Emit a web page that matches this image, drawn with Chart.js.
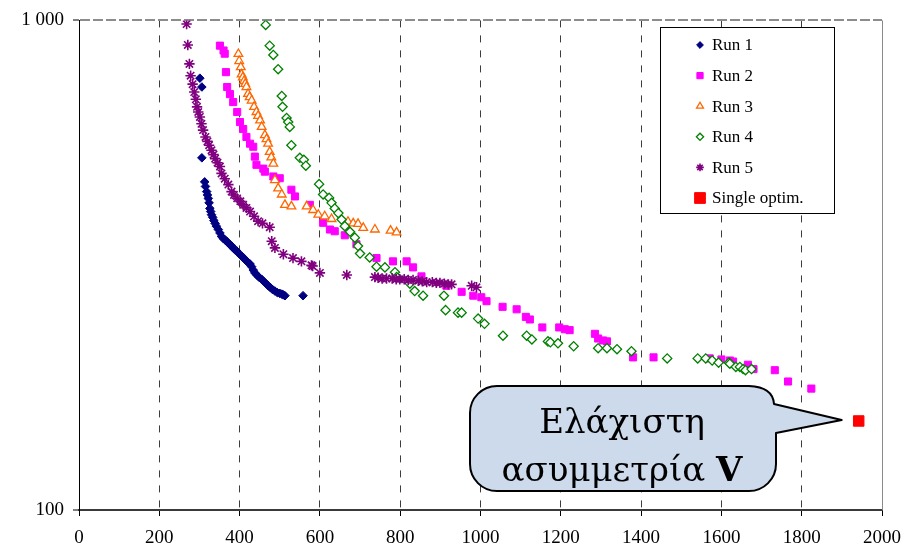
<!DOCTYPE html>
<html>
<head>
<meta charset="utf-8">
<script src="https://cdn.jsdelivr.net/npm/chart.js"></script>
<style>
  html, body { margin: 0; padding: 0; background: #fff; }
  #wrap { width: 919px; height: 550px; }
</style>
</head>
<body>
<div id="wrap"><canvas id="c" width="919" height="550"></canvas></div>
<script>
// Pareto fronts of five optimisation runs plus the single-objective optimum
const run1 = [[301,762],[306,731],[306,524],[313,468],[315,458],[318,447],[320,440],[322,433],[324,424],[326,413],[328,407],[330,401],[333,396],[336,390],[339,385],[342,380],[347,374],[351,368],[355,362],[360,358],[364,356],[368,354],[373,350],[377,348],[380,346],[385,342],[389,340],[393,338],[400,333],[405,330],[409,328],[413,325],[418,322],[422,320],[426,318],[430,314],[434,309],[438,305],[443,302],[448,299],[455,296],[460,293],[466,290],[471,287],[476,285],[482,282],[488,280],[494,278],[500,277],[505,276],[509,275],[513,274],[558,274]];

const run2 = [[351,888],[360,868],[363,855],[366,784],[369,731],[376,707],[384,681],[394,650],[401,620],[409,600],[417,578],[426,560],[434,552],[438,527],[442,507],[459,498],[463,491],[484,480],[500,476],[529,451],[538,437],[575,420],[608,386],[625,374],[637,371],[662,364],[691,349],[741,327],[782,322],[816,322],[832,313],[853,300],[915,287],[953,279],[982,274],[1002,272],[1015,267],[1055,260],[1090,257],[1113,248],[1123,245],[1154,236],[1196,236],[1210,234],[1222,233],[1285,229],[1293,224],[1305,222],[1315,221],[1380,205],[1431,205],[1571,204],[1600,203],[1621,202],[1629,201],[1666,198],[1680,194],[1733,193],[1766,183],[1824,177]];

const run3 = [[397,854],[399,826],[403,803],[405,776],[408,765],[411,752],[414,742],[417,731],[421,708],[425,697],[430,686],[436,666],[442,650],[446,638],[451,625],[455,606],[463,583],[467,572],[471,560],[475,539],[479,525],[484,510],[488,472],[496,454],[505,441],[513,420],[529,417],[567,417],[583,410],[596,401],[612,398],[629,393],[670,388],[683,385],[695,384],[708,377],[737,374],[776,372],[791,369]];

const run4 = [[465,979],[475,888],[484,850],[496,795],[505,701],[507,666],[517,632],[521,620],[525,606],[529,556],[550,524],[560,519],[565,505],[598,463],[608,441],[623,434],[629,424],[637,413],[646,404],[654,392],[662,380],[675,370],[687,360],[695,346],[700,334],[724,328],[741,314],[762,313],[787,306],[791,299],[824,290],[836,280],[857,274],[909,274],[913,256],[944,253],[953,253],[994,246],[1010,240],[1056,227],[1115,227],[1128,223],[1168,221],[1174,220],[1193,219],[1232,216],[1293,214],[1315,214],[1340,213],[1376,211],[1465,204],[1541,204],[1561,204],[1577,202],[1593,200],[1619,200],[1621,199],[1636,196],[1646,196],[1654,194],[1660,193],[1675,194]];

const run5 = [[268,983],[271,891],[275,815],[278,771],[283,741],[287,714],[291,690],[294,666],[297,650],[301,635],[305,615],[309,597],[315,578],[320,566],[324,556],[330,543],[335,532],[339,522],[345,512],[351,503],[355,487],[363,475],[372,462],[380,447],[386,440],[394,433],[402,427],[409,420],[417,414],[426,407],[436,398],[446,389],[457,385],[475,378],[480,354],[488,343],[509,333],[533,327],[554,322],[579,316],[582,315],[600,305],[667,302],[737,299],[745,298],[755,297],[766,297],[780,297],[790,296],[799,296],[810,296],[820,295],[832,295],[845,294],[855,293],[866,292],[880,292],[890,291],[899,291],[910,290],[920,289],[928,289],[978,287],[990,285]];

const singleOptim = [[1942,152]];

const seriesNames = ['Run 1', 'Run 2', 'Run 3', 'Run 4', 'Run 5', 'Single optim.'];
const xTicks = [0, 200, 400, 600, 800, 1000, 1200, 1400, 1600, 1800, 2000];
const yTicks = [100, 1000];
const yTickLabels = ['100', '1 000'];
const calloutLines = ['Ελάχιστη', 'ασυμμετρία'];
const calloutBold = 'V';

const toXY = arr => arr.map(p => ({x: p[0], y: p[1]}));

// marker styles per series
const styles = [
  {ps: 'rectRot',  bg: '#000080', bc: '#000080', r: 4.3, bw: 1,   lr: 3.4},
  {ps: 'rect',     bg: '#ff00ff', bc: '#ff00ff', r: 5.0, bw: 1,   lr: 4.4},
  {ps: 'triangle', bg: '#ffffff', bc: '#ff6600', r: 5.0, bw: 1.3, lr: 4.0},
  {ps: 'rectRot',  bg: '#ffffff', bc: '#008000', r: 4.6, bw: 1.3, lr: 3.6},
  {ps: 'star',     bg: '#800080', bc: '#800080', r: 5.2, bw: 1.6, lr: 3.8},
  {ps: 'rect',     bg: '#ff0000', bc: '#ff0000', r: 7.4, bw: 1,   lr: 7.6}
];

const seriesData = [run1, run2, run3, run4, run5, singleOptim];

const datasets = seriesData.map((d, i) => ({
  label: seriesNames[i],
  data: toXY(d),
  pointStyle: styles[i].ps,
  backgroundColor: styles[i].bg,
  borderColor: styles[i].bc,
  pointRadius: styles[i].r,
  pointHoverRadius: styles[i].r,
  borderWidth: styles[i].bw,
  showLine: false,
  order: 5 - i
}));

function drawMarker(ctx, st, x, y, r) {
  ctx.save();
  ctx.fillStyle = st.bg;
  ctx.strokeStyle = st.bc;
  ctx.lineWidth = st.bw;
  ctx.beginPath();
  if (st.ps === 'rect') {
    const s = r * Math.SQRT1_2;
    ctx.rect(x - s, y - s, 2 * s, 2 * s);
    ctx.fill(); ctx.stroke();
  } else if (st.ps === 'rectRot') {
    ctx.moveTo(x - r, y); ctx.lineTo(x, y - r); ctx.lineTo(x + r, y); ctx.lineTo(x, y + r);
    ctx.closePath(); ctx.fill(); ctx.stroke();
  } else if (st.ps === 'triangle') {
    for (let k = 0; k < 3; k++) {
      const a = k * 2 * Math.PI / 3;
      const px = x + Math.sin(a) * r, py = y - Math.cos(a) * r;
      if (k === 0) ctx.moveTo(px, py); else ctx.lineTo(px, py);
    }
    ctx.closePath(); ctx.fill(); ctx.stroke();
  } else if (st.ps === 'star') {
    for (let k = 0; k < 4; k++) {
      const a = k * Math.PI / 4;
      ctx.moveTo(x + Math.sin(a) * r, y - Math.cos(a) * r);
      ctx.lineTo(x - Math.sin(a) * r, y + Math.cos(a) * r);
    }
    ctx.stroke();
  }
  ctx.restore();
}

// right edge of the plot area
const frame = {
  id: 'frame',
  beforeDatasetsDraw(chart) {
    const {ctx, chartArea: a} = chart;
    ctx.save();
    ctx.strokeStyle = '#8a8a8a';
    ctx.lineWidth = 1;
    ctx.beginPath();
    ctx.moveTo(Math.round(a.right) + 0.5, a.top);
    ctx.lineTo(Math.round(a.right) + 0.5, a.bottom);
    ctx.stroke();
    ctx.restore();
  }
};

// boxed legend inside the plot area
const legendBox = {
  id: 'legendBox',
  afterDatasetsDraw(chart) {
    const ctx = chart.ctx;
    const L = 660.5, T = 27.5, W = 174, H = 186;
    ctx.save();
    ctx.fillStyle = '#ffffff';
    ctx.fillRect(L, T, W, H);
    ctx.strokeStyle = '#000000';
    ctx.lineWidth = 1;
    ctx.strokeRect(L, T, W, H);
    ctx.font = '17px "Liberation Serif", "Times New Roman", serif';
    ctx.textBaseline = 'middle';
    ctx.textAlign = 'left';
    seriesNames.forEach((name, i) => {
      const y = 45 + i * 30.6;
      drawMarker(ctx, styles[i], 700, y, styles[i].lr);
      ctx.fillStyle = '#000';
      ctx.fillText(name, 712, y + 1);
    });
    ctx.restore();
  }
};

// speech-bubble annotation pointing at the single-objective optimum
const callout = {
  id: 'callout',
  afterDatasetsDraw(chart) {
    const ctx = chart.ctx;
    const xs = chart.scales.x, ys = chart.scales.y;
    const tipX = xs.getPixelForValue(singleOptim[0][0]) - 17;
    const tipY = ys.getPixelForValue(singleOptim[0][1]) - 1;
    const L = 470, T = 386, R = 776, B = 491, r = 27;
    ctx.save();
    ctx.beginPath();
    ctx.moveTo(L + r, T);
    ctx.lineTo(R - r, T);
    ctx.quadraticCurveTo(R - 3, T + 1, R - 2, T + 18);
    ctx.lineTo(tipX, tipY);
    ctx.lineTo(R, T + 47);
    ctx.lineTo(R, B - r);
    ctx.arcTo(R, B, R - r, B, r);
    ctx.lineTo(L + r, B);
    ctx.arcTo(L, B, L, B - r, r);
    ctx.lineTo(L, T + r);
    ctx.arcTo(L, T, L + r, T, r);
    ctx.closePath();
    ctx.fillStyle = '#cddaeb';
    ctx.fill();
    ctx.strokeStyle = '#000';
    ctx.lineWidth = 2;
    ctx.lineJoin = 'round';
    ctx.stroke();

    ctx.fillStyle = '#000';
    ctx.textBaseline = 'alphabetic';
    ctx.textAlign = 'center';
    const cx = 622;
    ctx.font = '34px "DejaVu Serif", serif';
    ctx.fillText(calloutLines[0], cx, 433);
    const w1 = ctx.measureText(calloutLines[1] + ' ').width;
    ctx.font = 'bold 34px "DejaVu Serif", serif';
    const w2 = ctx.measureText(calloutBold).width;
    const start = cx - (w1 + w2) / 2;
    ctx.textAlign = 'left';
    ctx.font = '34px "DejaVu Serif", serif';
    ctx.fillText(calloutLines[1] + ' ', start, 481);
    ctx.font = 'bold 34px "DejaVu Serif", serif';
    ctx.fillText(calloutBold, start + w1, 481);
    ctx.restore();
  }
};

new Chart(document.getElementById('c'), {
  type: 'scatter',
  data: { datasets },
  options: {
    responsive: false,
    animation: false,
    devicePixelRatio: 1,
    layout: { padding: { top: 18, right: 37, left: 0, bottom: 0 } },
    plugins: { legend: { display: false }, tooltip: { enabled: false } },
    scales: {
      x: {
        type: 'linear',
        min: 0, max: 2000,
        afterFit: s => { s.height = 40; },
        afterBuildTicks: s => { s.ticks = xTicks.map(v => ({ value: v })); },
        ticks: {
          autoSkip: false, maxRotation: 0, padding: 11,
          color: '#000',
          font: { family: '"Liberation Serif", "Times New Roman", serif', size: 19 },
          callback: v => String(v)
        },
        grid: {
          color: c => (c.tick && (c.tick.value === 0 || c.tick.value === 2000)) ? 'rgba(0,0,0,0)' : '#3c3c3c',
          lineWidth: 1,
          tickColor: '#000',
          tickWidth: 1,
          tickLength: 6
        },
        border: { display: true, color: '#3a3a3a', width: 2, dash: [7, 8] }
      },
      y: {
        type: 'logarithmic',
        min: 100, max: 1000,
        afterFit: s => { s.width = 79; },
        afterBuildTicks: s => { s.ticks = yTicks.map(v => ({ value: v })); },
        ticks: {
          autoSkip: false, padding: 9,
          color: '#000',
          font: { family: '"Liberation Serif", "Times New Roman", serif', size: 19 },
          callback: v => yTickLabels[yTicks.indexOf(v)] ?? ''
        },
        grid: {
          color: c => (c.tick && c.tick.value === 1000) ? '#8c8c8c' : 'rgba(0,0,0,0)',
          lineWidth: 2,
          tickColor: '#000',
          tickWidth: 1,
          tickLength: 6
        },
        border: { display: true, color: '#000', width: 1, dash: [10, 3] }
      }
    }
  },
  plugins: [frame, legendBox, callout]
});
</script>
</body>
</html>
